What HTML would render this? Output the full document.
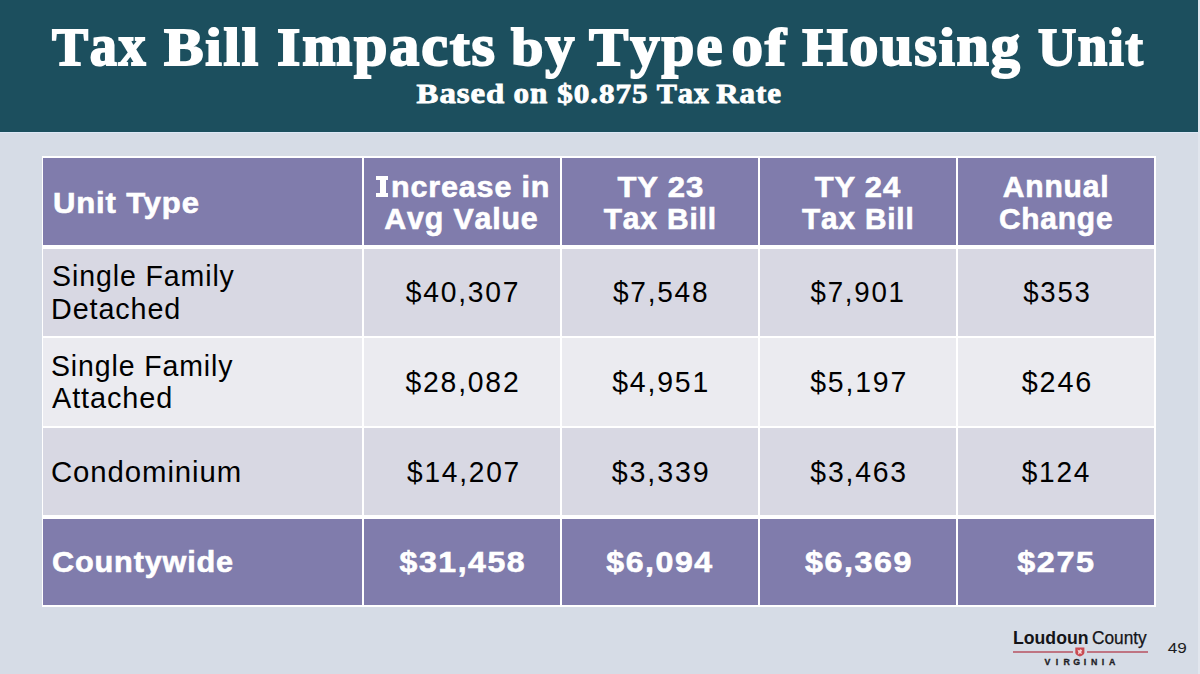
<!DOCTYPE html>
<html>
<head>
<meta charset="utf-8">
<style>
html,body{margin:0;padding:0;}
body{width:1200px;height:674px;position:relative;overflow:hidden;background:#d6dce6;font-family:"Liberation Sans",sans-serif;}
.hdr{position:absolute;left:0;top:0;width:1200px;height:132px;background:#1c4f5e;}
.hl{position:absolute;left:0;top:132px;width:1200px;height:1px;background:#dde8f6;}
.title{position:absolute;left:0;width:1200px;text-align:center;color:#fff;font-family:"Liberation Serif",serif;font-weight:bold;white-space:nowrap;}
.t1{font-size:55px;top:14px;}
.t2{font-size:27px;top:78px;}
.tbl{position:absolute;left:42px;top:156px;width:1114px;height:451px;background:#fff;}
.b{position:absolute;}
.p{background:#807cac;}
.g1{background:#d8d8e3;}
.g2{background:#ebebf0;}
.t{position:absolute;white-space:nowrap;}
</style>
</head>
<body>
<div class="hdr"></div>
<div class="hl"></div>
<div class="tbl"></div>
<div class="b p" style="left:43px;top:158px;width:319px;height:87px;"></div>
<div class="b p" style="left:364px;top:158px;width:196px;height:87px;"></div>
<div class="b p" style="left:562px;top:158px;width:196px;height:87px;"></div>
<div class="b p" style="left:760px;top:158px;width:196px;height:87px;"></div>
<div class="b p" style="left:958px;top:158px;width:196px;height:87px;"></div>
<div class="b g1" style="left:43px;top:249px;width:319px;height:87px;"></div>
<div class="b g1" style="left:364px;top:249px;width:196px;height:87px;"></div>
<div class="b g1" style="left:562px;top:249px;width:196px;height:87px;"></div>
<div class="b g1" style="left:760px;top:249px;width:196px;height:87px;"></div>
<div class="b g1" style="left:958px;top:249px;width:196px;height:87px;"></div>
<div class="b g2" style="left:43px;top:338px;width:319px;height:88px;"></div>
<div class="b g2" style="left:364px;top:338px;width:196px;height:88px;"></div>
<div class="b g2" style="left:562px;top:338px;width:196px;height:88px;"></div>
<div class="b g2" style="left:760px;top:338px;width:196px;height:88px;"></div>
<div class="b g2" style="left:958px;top:338px;width:196px;height:88px;"></div>
<div class="b g1" style="left:43px;top:428px;width:319px;height:87px;"></div>
<div class="b g1" style="left:364px;top:428px;width:196px;height:87px;"></div>
<div class="b g1" style="left:562px;top:428px;width:196px;height:87px;"></div>
<div class="b g1" style="left:760px;top:428px;width:196px;height:87px;"></div>
<div class="b g1" style="left:958px;top:428px;width:196px;height:87px;"></div>
<div class="b p" style="left:43px;top:519px;width:319px;height:86px;"></div>
<div class="b p" style="left:364px;top:519px;width:196px;height:86px;"></div>
<div class="b p" style="left:562px;top:519px;width:196px;height:86px;"></div>
<div class="b p" style="left:760px;top:519px;width:196px;height:86px;"></div>
<div class="b p" style="left:958px;top:519px;width:196px;height:86px;"></div>
<div class="t" style="left:52.70px;top:187.90px;font-size:29.3px;line-height:29.3px;font-weight:bold;color:#fff"><span style="display:inline-block;transform-origin:0 50%;-webkit-text-stroke:0.6px #fff;letter-spacing:0.8px;transform:scaleX(1.0596)">Unit Type</span></div>
<div class="t" style="left:390.60px;top:171.60px;font-size:29.3px;line-height:29.3px;font-weight:bold;color:#fff"><span style="display:inline-block;transform-origin:0 50%;-webkit-text-stroke:0.6px #fff;letter-spacing:0.8px;transform:scaleX(1.0419)">ncrease in</span></div>
<div class="t" style="left:311.75px;top:204.10px;width:300px;text-align:center;font-size:29.3px;line-height:29.3px;font-weight:bold;color:#fff"><span style="display:inline-block;-webkit-text-stroke:0.6px #fff;letter-spacing:0.8px;transform:scaleX(1.0360)">A<span style="display:inline-block;transform-origin:50% 24.80px;transform:scaleY(1.04)">vg</span> V<span style="display:inline-block;transform-origin:50% 24.80px;transform:scaleY(1.04)">a</span>l<span style="display:inline-block;transform-origin:50% 24.80px;transform:scaleY(1.04)">ue</span></span></div>
<div class="t" style="left:510.80px;top:171.60px;width:300px;text-align:center;font-size:29.3px;line-height:29.3px;font-weight:bold;color:#fff"><span style="display:inline-block;-webkit-text-stroke:0.6px #fff;letter-spacing:0.8px;transform:scaleX(1.0602)">TY 23</span></div>
<div class="t" style="left:510.35px;top:204.10px;width:300px;text-align:center;font-size:29.3px;line-height:29.3px;font-weight:bold;color:#fff"><span style="display:inline-block;-webkit-text-stroke:0.6px #fff;letter-spacing:0.8px;transform:scaleX(1.0227)">T<span style="display:inline-block;transform-origin:50% 24.80px;transform:scaleY(1.04)">ax</span> Bill</span></div>
<div class="t" style="left:708.15px;top:171.60px;width:300px;text-align:center;font-size:29.3px;line-height:29.3px;font-weight:bold;color:#fff"><span style="display:inline-block;-webkit-text-stroke:0.6px #fff;letter-spacing:0.8px;transform:scaleX(1.0563)">TY 24</span></div>
<div class="t" style="left:708.30px;top:204.10px;width:300px;text-align:center;font-size:29.3px;line-height:29.3px;font-weight:bold;color:#fff"><span style="display:inline-block;-webkit-text-stroke:0.6px #fff;letter-spacing:0.8px;transform:scaleX(1.0162)">T<span style="display:inline-block;transform-origin:50% 24.80px;transform:scaleY(1.04)">ax</span> Bill</span></div>
<div class="t" style="left:905.75px;top:171.60px;width:300px;text-align:center;font-size:29.3px;line-height:29.3px;font-weight:bold;color:#fff"><span style="display:inline-block;-webkit-text-stroke:0.6px #fff;letter-spacing:0.8px;transform:scaleX(1.0252)">A<span style="display:inline-block;transform-origin:50% 24.80px;transform:scaleY(1.04)">nnua</span>l</span></div>
<div class="t" style="left:905.80px;top:204.10px;width:300px;text-align:center;font-size:29.3px;line-height:29.3px;font-weight:bold;color:#fff"><span style="display:inline-block;-webkit-text-stroke:0.6px #fff;letter-spacing:0.8px;transform:scaleX(1.0191)">Ch<span style="display:inline-block;transform-origin:50% 24.80px;transform:scaleY(1.04)">ange</span></span></div>
<div class="t" style="left:51.50px;top:261.59px;font-size:28.6px;line-height:28.6px;color:#000"><span style="display:inline-block;transform-origin:0 50%;letter-spacing:0.9px;transform:scaleX(0.9970)">Single Family</span></div>
<div class="t" style="left:50.80px;top:294.59px;font-size:28.6px;line-height:28.6px;color:#000"><span style="display:inline-block;transform-origin:0 50%;letter-spacing:0.9px;transform:scaleX(1.0044)">Detached</span></div>
<div class="t" style="left:313.33px;top:278.29px;width:300px;text-align:center;font-size:28.6px;line-height:28.6px;color:#000"><span style="display:inline-block;letter-spacing:1.8px;transform:scaleX(0.9881)">$40,307</span></div>
<div class="t" style="left:510.80px;top:278.29px;width:300px;text-align:center;font-size:28.6px;line-height:28.6px;color:#000"><span style="display:inline-block;letter-spacing:1.8px;transform:scaleX(0.9818)">$7,548</span></div>
<div class="t" style="left:708.50px;top:278.29px;width:300px;text-align:center;font-size:28.6px;line-height:28.6px;color:#000"><span style="display:inline-block;letter-spacing:1.8px;transform:scaleX(0.9675)">$7,901</span></div>
<div class="t" style="left:907.15px;top:278.29px;width:300px;text-align:center;font-size:28.6px;line-height:28.6px;color:#000"><span style="display:inline-block;letter-spacing:1.8px;transform:scaleX(0.9650)">$353</span></div>
<div class="t" style="left:51.30px;top:351.59px;font-size:28.6px;line-height:28.6px;color:#000"><span style="display:inline-block;transform-origin:0 50%;letter-spacing:0.9px;transform:scaleX(0.9949)">Single Family</span></div>
<div class="t" style="left:52.30px;top:384.09px;font-size:28.6px;line-height:28.6px;color:#000"><span style="display:inline-block;transform-origin:0 50%;letter-spacing:0.9px;transform:scaleX(1.0084)">Attached</span></div>
<div class="t" style="left:312.85px;top:368.29px;width:300px;text-align:center;font-size:28.6px;line-height:28.6px;color:#000"><span style="display:inline-block;letter-spacing:1.8px;transform:scaleX(0.9911)">$28,082</span></div>
<div class="t" style="left:510.80px;top:368.29px;width:300px;text-align:center;font-size:28.6px;line-height:28.6px;color:#000"><span style="display:inline-block;letter-spacing:1.8px;transform:scaleX(0.9951)">$4,951</span></div>
<div class="t" style="left:709.50px;top:368.29px;width:300px;text-align:center;font-size:28.6px;line-height:28.6px;color:#000"><span style="display:inline-block;letter-spacing:1.8px;transform:scaleX(0.9951)">$5,197</span></div>
<div class="t" style="left:907.65px;top:368.29px;width:300px;text-align:center;font-size:28.6px;line-height:28.6px;color:#000"><span style="display:inline-block;letter-spacing:1.8px;transform:scaleX(1.0074)">$246</span></div>
<div class="t" style="left:51.30px;top:457.59px;font-size:28.6px;line-height:28.6px;color:#000"><span style="display:inline-block;transform-origin:0 50%;letter-spacing:0.9px;transform:scaleX(1.0260)">Condominium</span></div>
<div class="t" style="left:313.60px;top:457.59px;width:300px;text-align:center;font-size:28.6px;line-height:28.6px;color:#000"><span style="display:inline-block;letter-spacing:1.8px;transform:scaleX(0.9825)">$14,207</span></div>
<div class="t" style="left:511.50px;top:457.59px;width:300px;text-align:center;font-size:28.6px;line-height:28.6px;color:#000"><span style="display:inline-block;letter-spacing:1.8px;transform:scaleX(1.0028)">$3,339</span></div>
<div class="t" style="left:709.50px;top:457.59px;width:300px;text-align:center;font-size:28.6px;line-height:28.6px;color:#000"><span style="display:inline-block;letter-spacing:1.8px;transform:scaleX(0.9929)">$3,463</span></div>
<div class="t" style="left:906.90px;top:457.59px;width:300px;text-align:center;font-size:28.6px;line-height:28.6px;color:#000"><span style="display:inline-block;letter-spacing:1.8px;transform:scaleX(0.9818)">$124</span></div>
<div class="t" style="left:51.50px;top:547.40px;font-size:29.3px;line-height:29.3px;font-weight:bold;color:#fff"><span style="display:inline-block;transform-origin:0 50%;-webkit-text-stroke:0.6px #fff;letter-spacing:0.8px;transform:scaleX(1.0459)">Countywide</span></div>
<div class="t" style="left:313.30px;top:547.40px;width:300px;text-align:center;font-size:29.3px;line-height:29.3px;font-weight:bold;color:#fff"><span style="display:inline-block;-webkit-text-stroke:0.6px #fff;letter-spacing:1.4px;transform:scaleX(1.0940)">$31,458</span></div>
<div class="t" style="left:510.30px;top:547.40px;width:300px;text-align:center;font-size:29.3px;line-height:29.3px;font-weight:bold;color:#fff"><span style="display:inline-block;-webkit-text-stroke:0.6px #fff;letter-spacing:1.4px;transform:scaleX(1.0950)">$6,094</span></div>
<div class="t" style="left:709.15px;top:547.40px;width:300px;text-align:center;font-size:29.3px;line-height:29.3px;font-weight:bold;color:#fff"><span style="display:inline-block;-webkit-text-stroke:0.6px #fff;letter-spacing:1.4px;transform:scaleX(1.1022)">$6,369</span></div>
<div class="t" style="left:906.10px;top:547.40px;width:300px;text-align:center;font-size:29.3px;line-height:29.3px;font-weight:bold;color:#fff"><span style="display:inline-block;-webkit-text-stroke:0.6px #fff;letter-spacing:1.4px;transform:scaleX(1.1046)">$275</span></div>
<div class="t" style="left:-50.00px;top:21.41px;width:300px;text-align:center;font-family:'Liberation Serif';font-size:53px;line-height:53px;font-weight:bold;color:#fff"><span style="display:inline-block;-webkit-text-stroke:1.8px #fff;letter-spacing:1.6px;transform:scaleX(1.0220)">T<span style="display:inline-block;transform-origin:50% 44.39px;transform:scaleY(1.12)">ax</span></span></div>
<div class="t" style="left:61.50px;top:21.41px;width:300px;text-align:center;font-family:'Liberation Serif';font-size:53px;line-height:53px;font-weight:bold;color:#fff"><span style="display:inline-block;-webkit-text-stroke:1.8px #fff;letter-spacing:1.6px;transform:scaleX(1.1182)">Bill</span></div>
<div class="t" style="left:237.25px;top:21.41px;width:300px;text-align:center;font-family:'Liberation Serif';font-size:53px;line-height:53px;font-weight:bold;color:#fff"><span style="display:inline-block;-webkit-text-stroke:1.8px #fff;letter-spacing:1.6px;transform:scaleX(1.1342)">I<span style="display:inline-block;transform-origin:50% 44.39px;transform:scaleY(1.12)">mpac</span>t<span style="display:inline-block;transform-origin:50% 44.39px;transform:scaleY(1.12)">s</span></span></div>
<div class="t" style="left:393.50px;top:21.41px;width:300px;text-align:center;font-family:'Liberation Serif';font-size:53px;line-height:53px;font-weight:bold;color:#fff"><span style="display:inline-block;-webkit-text-stroke:1.8px #fff;letter-spacing:1.6px;transform:scaleX(1.1018)">b<span style="display:inline-block;transform-origin:50% 44.39px;transform:scaleY(1.12)">y</span></span></div>
<div class="t" style="left:506.50px;top:21.41px;width:300px;text-align:center;font-family:'Liberation Serif';font-size:53px;line-height:53px;font-weight:bold;color:#fff"><span style="display:inline-block;-webkit-text-stroke:1.8px #fff;letter-spacing:1.6px;transform:scaleX(1.1136)">T<span style="display:inline-block;transform-origin:50% 44.39px;transform:scaleY(1.12)">ype</span></span></div>
<div class="t" style="left:610.00px;top:21.41px;width:300px;text-align:center;font-family:'Liberation Serif';font-size:53px;line-height:53px;font-weight:bold;color:#fff"><span style="display:inline-block;-webkit-text-stroke:1.8px #fff;letter-spacing:1.6px;transform:scaleX(1.1892)"><span style="display:inline-block;transform-origin:50% 44.39px;transform:scaleY(1.12)">o</span>f</span></div>
<div class="t" style="left:761.50px;top:21.41px;width:300px;text-align:center;font-family:'Liberation Serif';font-size:53px;line-height:53px;font-weight:bold;color:#fff"><span style="display:inline-block;-webkit-text-stroke:1.8px #fff;letter-spacing:1.6px;transform:scaleX(1.0985)">H<span style="display:inline-block;transform-origin:50% 44.39px;transform:scaleY(1.12)">ous</span>i<span style="display:inline-block;transform-origin:50% 44.39px;transform:scaleY(1.12)">ng</span></span></div>
<div class="t" style="left:941.75px;top:21.41px;width:300px;text-align:center;font-family:'Liberation Serif';font-size:53px;line-height:53px;font-weight:bold;color:#fff"><span style="display:inline-block;-webkit-text-stroke:1.8px #fff;letter-spacing:1.6px;transform:scaleX(1.0015)">U<span style="display:inline-block;transform-origin:50% 44.39px;transform:scaleY(1.12)">n</span>it</span></div>
<div class="t" style="left:310.75px;top:80.71px;width:300px;text-align:center;font-family:'Liberation Serif';font-size:26.5px;line-height:26.5px;font-weight:bold;color:#fff"><span style="display:inline-block;-webkit-text-stroke:0.8px #fff;letter-spacing:0.8px;transform:scaleX(1.2352)">B<span style="display:inline-block;transform-origin:50% 22.19px;transform:scaleY(1.12)">ase</span>d</span></div>
<div class="t" style="left:380.75px;top:80.71px;width:300px;text-align:center;font-family:'Liberation Serif';font-size:26.5px;line-height:26.5px;font-weight:bold;color:#fff"><span style="display:inline-block;-webkit-text-stroke:0.8px #fff;letter-spacing:0.8px;transform:scaleX(1.1723)"><span style="display:inline-block;transform-origin:50% 22.19px;transform:scaleY(1.12)">on</span></span></div>
<div class="t" style="left:452.50px;top:80.71px;width:300px;text-align:center;font-family:'Liberation Serif';font-size:26.5px;line-height:26.5px;font-weight:bold;color:#fff"><span style="display:inline-block;-webkit-text-stroke:0.8px #fff;letter-spacing:0.8px;transform:scaleX(1.1757)">$0.875</span></div>
<div class="t" style="left:533.25px;top:80.71px;width:300px;text-align:center;font-family:'Liberation Serif';font-size:26.5px;line-height:26.5px;font-weight:bold;color:#fff"><span style="display:inline-block;-webkit-text-stroke:0.8px #fff;letter-spacing:0.8px;transform:scaleX(1.1406)">T<span style="display:inline-block;transform-origin:50% 22.19px;transform:scaleY(1.12)">ax</span></span></div>
<div class="t" style="left:599.50px;top:80.71px;width:300px;text-align:center;font-family:'Liberation Serif';font-size:26.5px;line-height:26.5px;font-weight:bold;color:#fff"><span style="display:inline-block;-webkit-text-stroke:0.8px #fff;letter-spacing:0.8px;transform:scaleX(1.1669)">R<span style="display:inline-block;transform-origin:50% 22.19px;transform:scaleY(1.12)">a</span>t<span style="display:inline-block;transform-origin:50% 22.19px;transform:scaleY(1.12)">e</span></span></div>
<div class="t" style="left:1012.60px;top:630.39px;font-size:17.5px;line-height:17.5px;font-weight:bold;color:#141418"><span style="display:inline-block;transform-origin:0 50%;transform:scaleX(1.0089)">Loudoun</span></div>
<div class="t" style="left:1091.60px;top:630.36px;font-size:17.5px;line-height:17.5px;color:#141418"><span style="display:inline-block;transform-origin:0 50%;-webkit-text-stroke:0.25px #141418;transform:scaleX(0.9871)">County</span></div>
<div class="t" style="left:1027.30px;top:640.10px;width:300px;text-align:center;font-size:15px;line-height:15px;color:#1c1c22"><span style="display:inline-block;transform:scaleX(1.1417)">49</span></div>
<div class="b" style="left:376.2px;top:176.2px;width:11.8px;height:3.8px;background:#fff;"></div>
<div class="b" style="left:376.2px;top:192.8px;width:11.8px;height:3.8px;background:#fff;"></div>
<div class="b" style="left:379.7px;top:176.2px;width:6px;height:20.4px;background:#fff;"></div>
<div class="b" style="left:1198px;top:0;width:2px;height:674px;background:#e2e6ee;"></div>
<div class="b" style="left:1013px;top:651px;width:60px;height:2px;background:#bf7482;"></div>
<div class="b" style="left:1087px;top:651px;width:61px;height:2px;background:#bf7482;"></div>
<svg class="b" style="left:1075px;top:647px;" width="10" height="10" viewBox="0 0 10 10"><path d="M0.3,0.6 H9.4 V5.2 Q9.4,8.2 4.85,9.6 Q0.3,8.2 0.3,5.2 Z" fill="#c94b52"/><path d="M2.4,2.4 L4.2,3.6 L5.4,2.2 L7.2,3.2 L6.2,5 L7,7 L4.8,6.2 L3,7.4 L3.4,5.2 Z" fill="#f3d6d8"/></svg>
<div class="b" style="left:1044.5px;top:657px;font-size:8.8px;line-height:10px;font-weight:bold;color:#1e1e26;-webkit-text-stroke:0.3px #1e1e26;">
<span class="b" style="left:0px">V</span><span class="b" style="left:11.3px">I</span><span class="b" style="left:19px">R</span><span class="b" style="left:28.8px">G</span><span class="b" style="left:39.2px">I</span><span class="b" style="left:46.5px">N</span><span class="b" style="left:57.2px">I</span><span class="b" style="left:64.6px">A</span>
</div>
</body>
</html>
